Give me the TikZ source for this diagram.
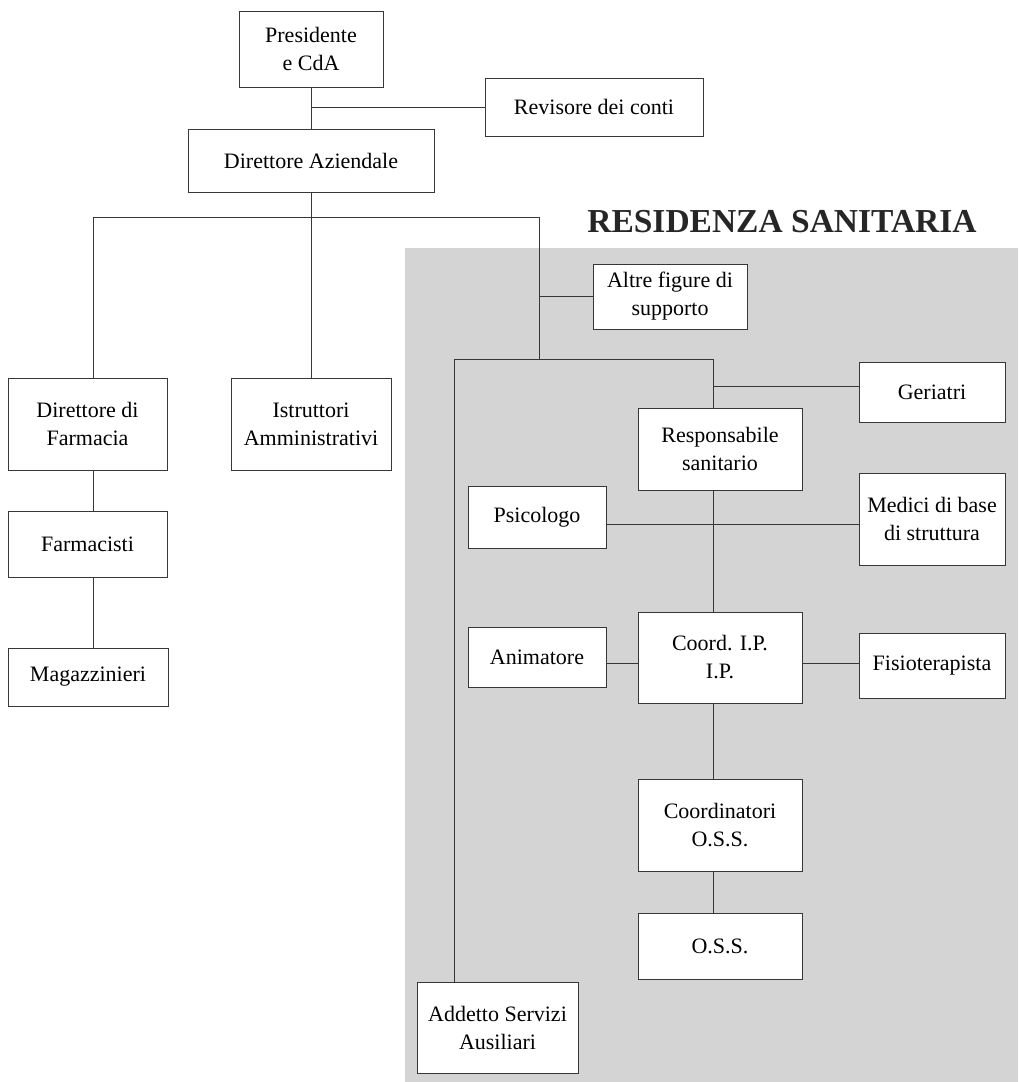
\documentclass[tikz,border=0pt]{standalone}
\usepackage{fontspec}
\setmainfont{Liberation Serif}
\definecolor{bgc}{RGB}{212,212,212}
\definecolor{lnc}{RGB}{55,55,55}
\newcommand\orgbox[6]{\node[bx, minimum width={(#4-#2)*1pt}, minimum height={(#5-#3)*1pt}] (#1) at ({(#2+#4)/2},{(#3+#5)/2}) {#6};}
\begin{document}
\begin{tikzpicture}[x=1pt,y=-1pt,
  bx/.style={draw=lnc, line width=1pt, fill=white, inner sep=0pt, align=center, font=\fontsize{22}{28}\selectfont},
  cn/.style={draw=lnc, line width=0.9pt}]
\useasboundingbox (0,0) rectangle (1018,1082);
\fill[bgc] (405,248) rectangle (1018,1082);
\node[anchor=base, font=\bfseries\fontsize{33.5}{40}\selectfont, text=black!85] (title) at (782,232) {RESIDENZA SANITARIA};
% boxes
\orgbox{pres}{239}{11}{383}{87}{Presidente\\e CdA}
\orgbox{rev}{485}{78}{703}{136}{Revisore dei conti}
\orgbox{dira}{188}{129}{434}{192}{Direttore Aziendale}
\orgbox{dirf}{8}{378}{167}{470}{Direttore di\\Farmacia}
\orgbox{istr}{231}{378}{391}{470}{Istruttori\\Amministrativi}
\orgbox{farm}{8}{511}{167}{577}{Farmacisti}
\orgbox{mag}{8}{648}{168}{706}{Magazzinieri}
\orgbox{altre}{593}{264}{747}{329}{Altre figure di\\supporto}
\orgbox{ger}{859}{362}{1005}{422}{Geriatri}
\orgbox{resp}{638}{408}{802}{490}{Responsabile\\sanitario}
\orgbox{psi}{468}{486}{606}{548}{Psicologo}
\orgbox{med}{859}{473}{1005}{565}{Medici di base\\di struttura}
\orgbox{anim}{468}{627}{606}{687}{Animatore}
\orgbox{cip}{638}{612}{802}{703}{Coord. I.P.\\I.P.}
\orgbox{fis}{859}{633}{1005}{698}{Fisioterapista}
\orgbox{coss}{638}{779}{802}{871}{Coordinatori\\O.S.S.}
\orgbox{oss}{638}{913}{802}{979}{O.S.S.}
\orgbox{add}{417}{982}{578}{1073}{Addetto Servizi\\Ausiliari}
% junctions
\coordinate (h1) at (93,217);
\coordinate (h2) at (539,217);
\coordinate (h3) at (539,359);
\coordinate (h4) at (454,359);
\coordinate (h5) at (713,359);
\coordinate (g1) at (713,386);
\coordinate (p1) at (0,524);
\coordinate (p2) at (0,663);
% connectors
\draw[cn] (pres.south) -- (dira.north);
\draw[cn] (rev.west) -- (rev.west -| pres.south);
\draw[cn] (dira.south) -- (istr.north);
\draw[cn] (h1 |- dirf.north) -- (h1) -- (h2) -- (h3);
\draw[cn] (h1 |- dirf.south) -- (h1 |- farm.north);
\draw[cn] (h1 |- farm.south) -- (h1 |- mag.north);
\draw[cn] (altre.west) -- (altre.west -| h2);
\draw[cn] (h4 |- add.north) -- (h4) -- (h5) -- (h5 |- resp.north);
\draw[cn] (g1) -- (g1 -| ger.west);
\draw[cn] (h5 |- resp.south) -- (h5 |- cip.north);
\draw[cn] (psi.east |- p1) -- (med.west |- p1);
\draw[cn] (anim.east |- p2) -- (cip.west |- p2);
\draw[cn] (cip.east |- p2) -- (fis.west |- p2);
\draw[cn] (h5 |- cip.south) -- (h5 |- coss.north);
\draw[cn] (h5 |- coss.south) -- (h5 |- oss.north);
\end{tikzpicture}
\end{document}
